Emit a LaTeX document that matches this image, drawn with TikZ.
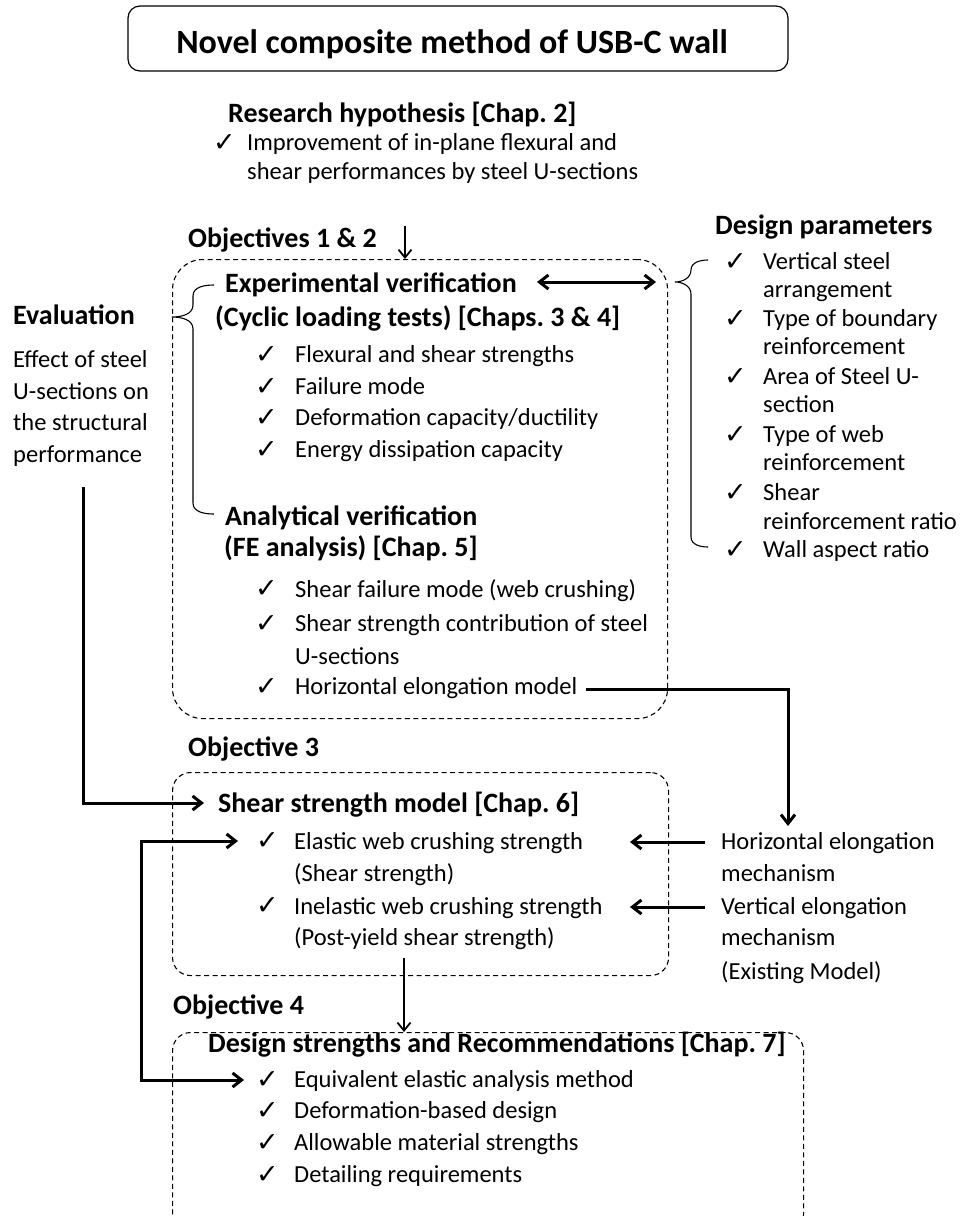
\documentclass[tikz,border=0pt]{standalone}
\usepackage{fontspec}
\setmainfont{Carlito}
\newfontfamily\symfont{DejaVu Sans}
\usetikzlibrary{arrows.meta}
\frenchspacing
\begin{document}
\begin{tikzpicture}[x=1pt,y=-1pt,
  txt/.style={anchor=base west, inner sep=0pt, font=\fontsize{24.5}{29}\selectfont},
  hd/.style={anchor=base west, inner sep=0pt, font=\bfseries\fontsize{28}{34}\selectfont},
  chk/.style={anchor=base west, inner sep=0pt, font=\symfont\fontsize{27}{28}\selectfont},
  dbox/.style={draw, dash pattern=on 5pt off 3.5pt, line width=1.1pt, anchor=north west, inner sep=0pt},
  bracepath/.style={draw, line width=1.1pt},
  thinarr/.style={line width=1.8pt, -{Straight Barb[length=8pt,width=13pt]}},
  thickarr/.style={line width=3pt, -{Straight Barb[length=9pt,width=14pt]}},
  dblarr/.style={line width=3pt, {Straight Barb[length=9pt,width=14pt]}-{Straight Barb[length=9pt,width=14pt]}},
]
\useasboundingbox[fill=white] (0,0) rectangle (965,1216);
\clip (0,0) rectangle (965,1216);

% title
\node[draw, line width=1.2pt, rounded corners=12pt, minimum width=660pt, minimum height=65pt, inner sep=0pt] (titlebox) at (458,38.5) {};
\node[anchor=base, inner sep=0pt, font=\bfseries\fontsize{34}{40}\selectfont] (title) at (452,53) {Novel composite method of USB-C wall};

% research hypothesis
\node[hd] (rh) at (228,122) {Research hypothesis [Chap. 2]};
\node[chk] (rhc) at (213,151) {✓};
\node[txt] (rh1) at (247,150.5) {Improvement of in-plane flexural and};
\node[txt] (rh2) at (247,179.5) {shear performances by steel U-sections};

% objectives 1 & 2
\node[hd] (ob12) at (188,247) {Objectives 1 \& 2};
\node[dbox, rounded corners=30pt, minimum width=495pt, minimum height=459pt] (box1) at (172,259) {};
\coordinate (a1s) at (405,226);
\draw[thinarr] (a1s) -- (a1s |- box1.north);

\node[hd] (exp1) at (225,292) {Experimental verification};
\node[hd] (exp2) at (215,326) {(Cyclic loading tests) [Chaps. 3 \& 4]};
\coordinate (da1) at (537,282);
\coordinate (da2) at (656,282);
\draw[dblarr] (da1) -- (da2);

\node[chk] (c1) at (255,363) {✓};
\node[txt] (e1) at (295,362.5) {Flexural and shear strengths};
\node[chk] (c2) at (255,395) {✓};
\node[txt] (e2) at (295,394.5) {Failure mode};
\node[chk] (c3) at (255,426) {✓};
\node[txt] (e3) at (295,425.5) {Deformation capacity/ductility};
\node[chk] (c4) at (255,458) {✓};
\node[txt] (e4) at (295,457.5) {Energy dissipation capacity};

\node[hd] (an1) at (225,525) {Analytical verification};
\node[hd] (an2) at (224,556) {(FE analysis) [Chap. 5]};
\node[chk] (c5) at (255,597) {✓};
\node[txt] (f1) at (295,597) {Shear failure mode (web crushing)};
\node[chk] (c6) at (255,632) {✓};
\node[txt] (f2) at (295,631.5) {Shear strength contribution of steel};
\node[txt] (f2b) at (295,664) {U-sections};
\node[chk] (c7) at (255,695) {✓};
\node[txt] (f3) at (295,694.5) {Horizontal elongation model};

% left brace + evaluation
\draw[bracepath] (214,285) to[out=180,in=90] (193,296) -- (193,305) to[out=270,in=0] (172,317)
  to[out=0,in=90] (193,329) -- (193,503) to[out=270,in=180] (214,514);
\node[hd] (ev) at (13,324) {Evaluation};
\node[txt] (ev1) at (13,367.5) {Effect of steel};
\node[txt] (ev2) at (13,399.5) {U-sections on};
\node[txt] (ev3) at (13,430.5) {the structural};
\node[txt] (ev4) at (13,462.5) {performance};

% design parameters + right brace
\node[hd] (dp) at (715,234) {Design parameters};
\draw[bracepath] (708,260) to[out=180,in=90] (691,270) to[out=270,in=0] (675,282)
  to[out=0,in=90] (691,294) -- (691,537) to[out=270,in=180] (708,547);
\node[chk] (d1c) at (724,270) {✓};
\node[txt] (d1) at (763,269.5) {Vertical steel};
\node[txt] (d1b) at (763,297.5) {arrangement};
\node[chk] (d2c) at (724,327) {✓};
\node[txt] (d2) at (763,326.5) {Type of boundary};
\node[txt] (d2b) at (763,354.5) {reinforcement};
\node[chk] (d3c) at (724,385) {✓};
\node[txt] (d3) at (763,384.5) {Area of Steel U-};
\node[txt] (d3b) at (763,412.5) {section};
\node[chk] (d4c) at (724,443) {✓};
\node[txt] (d4) at (763,442.5) {Type of web};
\node[txt] (d4b) at (763,470.5) {reinforcement};
\node[chk] (d5c) at (724,501) {✓};
\node[txt] (d5) at (763,500.5) {Shear};
\node[txt] (d5b) at (763,529.5) {reinforcement ratio};
\node[chk] (d6c) at (724,558) {✓};
\node[txt] (d6) at (763,557.5) {Wall aspect ratio};

% objective 3
\node[hd] (ob3) at (188,756) {Objective 3};
\node[dbox, rounded corners=18pt, minimum width=496pt, minimum height=203pt] (box3) at (172,772) {};
\node[hd] (ssm) at (218,812) {Shear strength model [Chap. 6]};
\node[chk] (s1c) at (256,849) {✓};
\node[txt] (s1) at (294,849.5) {Elastic web crushing strength};
\node[txt] (s1b) at (294,881.5) {(Shear strength)};
\node[chk] (s2c) at (256,914) {✓};
\node[txt] (s2) at (294,914.5) {Inelastic web crushing strength};
\node[txt] (s2b) at (294,945.5) {(Post-yield shear strength)};

\node[txt] (hm1) at (721,849.5) {Horizontal elongation};
\node[txt] (hm2) at (721,881.5) {mechanism};
\node[txt] (vm1) at (721,914.5) {Vertical elongation};
\node[txt] (vm2) at (721,945.5) {mechanism};
\node[txt] (vm3) at (721,979.5) {(Existing Model)};

% evaluation arrow
\coordinate (ev0) at (83,487);
\coordinate (ev5) at (204,803);
\draw[thickarr] (ev0) |- (ev5);

% horizontal elongation arrow
\coordinate (h1) at (586,689);
\coordinate (h2) at (788,826);
\draw[thickarr] (h1) -| (h2);

% mechanism arrows
\coordinate (m1) at (705,842);
\coordinate (m1e) at (630,842);
\coordinate (m2) at (705,907);
\coordinate (m2e) at (630,907);
\draw[thickarr] (m1) -- (m1e);
\draw[thickarr] (m2) -- (m2e);

% objective 4
\node[hd] (ob4) at (173,1014) {Objective 4};
\node[dbox, rounded corners=18pt, minimum width=631pt, minimum height=200pt] (box4) at (172,1032) {};
\coordinate (a4s) at (404,958);
\draw[thinarr] (a4s) -- (a4s |- box4.north);
\node[hd] (dsr) at (208,1052) {Design strengths and Recommendations [Chap. 7]};
\node[chk] (q1c) at (256,1088) {✓};
\node[txt] (q1) at (294,1087.5) {Equivalent elastic analysis method};
\node[chk] (q2c) at (256,1119) {✓};
\node[txt] (q2) at (294,1118.5) {Deformation-based design};
\node[chk] (q3c) at (256,1151) {✓};
\node[txt] (q3) at (294,1150.5) {Allowable material strengths};
\node[chk] (q4c) at (256,1183) {✓};
\node[txt] (q4) at (294,1182.5) {Detailing requirements};

% loop arrow
\coordinate (l1) at (238,841);
\coordinate (l2) at (244,1080);
\draw[dblarr] (l1) -| (141,1080) -- (l2);
\end{tikzpicture}
\end{document}
